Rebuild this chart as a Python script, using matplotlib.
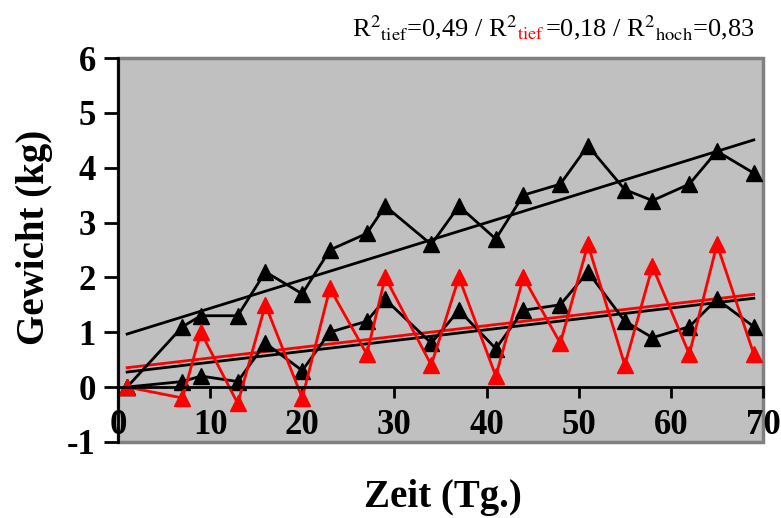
import numpy as np
import matplotlib
matplotlib.use("Agg")
import matplotlib.pyplot as plt
from matplotlib.patches import Rectangle

plt.rcParams['font.family'] = ['Liberation Serif', 'DejaVu Serif']
plt.rcParams['mathtext.fontset'] = 'stix'

# Zeit (Tage)
tage = [1, 7, 9, 13, 16, 20, 23, 27, 29, 34, 37, 41, 44, 48, 51, 55, 58, 62, 65, 69]
# Gewicht (kg)
hoch = [0, 1.1, 1.3, 1.3, 2.1, 1.7, 2.5, 2.8, 3.3, 2.6, 3.3, 2.7, 3.5, 3.7, 4.4, 3.6, 3.4, 3.7, 4.3, 3.9]
tief_schwarz = [0, 0.1, 0.2, 0.1, 0.8, 0.3, 1.0, 1.2, 1.6, 0.8, 1.4, 0.7, 1.4, 1.5, 2.1, 1.2, 0.9, 1.1, 1.6, 1.1]
tief_rot = [0, -0.2, 1.0, -0.3, 1.5, -0.2, 1.8, 0.6, 2.0, 0.4, 2.0, 0.2, 2.0, 0.8, 2.6, 0.4, 2.2, 0.6, 2.6, 0.6]

x_ticks = [0, 10, 20, 30, 40, 50, 60, 70]
y_ticks = [-1, 0, 1, 2, 3, 4, 5, 6]

fig = plt.figure(figsize=(7.81, 5.18), dpi=100)
ax = fig.add_axes([0.151, 0.147, 0.826, 0.741])
ax.set_facecolor('#C0C0C0')
ax.set_xlim(0, 70)
ax.set_ylim(-1, 6)

x = np.array(tage)
serien = [(hoch, 'black'), (tief_schwarz, 'black'), (tief_rot, 'red')]
for werte, farbe in serien:
    ax.plot(x, werte, color=farbe, lw=2.0, marker='^', markersize=11,
            markeredgecolor=farbe, zorder=4)
for werte, farbe in serien:
    m, b = np.polyfit(x, werte, 1)
    ax.plot([x[0], x[-1]], [m * x[0] + b, m * x[-1] + b], color=farbe, lw=2.0, zorder=3)

# Rahmen der Zeichenfläche
for s in ['top', 'right']:
    ax.spines[s].set_visible(False)
ax.add_patch(Rectangle((0, 0), 1, 1, transform=ax.transAxes, fill=False,
                       edgecolor='#808080', lw=2.5, clip_on=False, zorder=1))
ax.spines['left'].set_color('black')
ax.spines['left'].set_linewidth(2)
ax.spines['left'].set_zorder(5)
ax.spines['bottom'].set_position(('data', 0))
ax.spines['bottom'].set_linewidth(2)
ax.spines['bottom'].set_zorder(5)

ax.set_yticks(y_ticks)
ax.set_yticklabels([str(v) for v in y_ticks], fontsize=25, fontweight='bold')
ax.tick_params(axis='y', direction='out', length=10, width=2, pad=6)
ax.set_xticks(x_ticks)
ax.set_xticklabels([])
ax.tick_params(axis='x', direction='out', length=8, width=2)
for v in x_ticks:
    ax.text(v, -1, str(v), ha='center', va='bottom', fontsize=25,
            fontweight='bold', zorder=6)

ax.set_ylabel('Gewicht (kg)', fontsize=28, fontweight='bold')
ax.yaxis.set_label_coords(-0.100, 0.534)
fig.text(0.567, 0.04, 'Zeit (Tg.)', ha='center', va='center', fontsize=28,
         fontweight='bold')

# R²-Angaben oben rechts
teile = [(r'R$^2$$_{\rm tief}$=0,49 / R$^2$', 'black'),
         (r'$_{\rm tief}$', 'red'),
         (r'=0,18 / R$^2$$_{\rm hoch}$=0,83', 'black')]
renderer = fig.canvas.get_renderer()
x0 = 352
for txt, farbe in teile:
    t = fig.text(x0 / 781, 1 - 36 / 518, txt, color=farbe, fontsize=19,
                 ha='left', va='baseline')
    bb = t.get_window_extent(renderer)
    x0 = bb.x1

fig.savefig('out.png', dpi=100)
